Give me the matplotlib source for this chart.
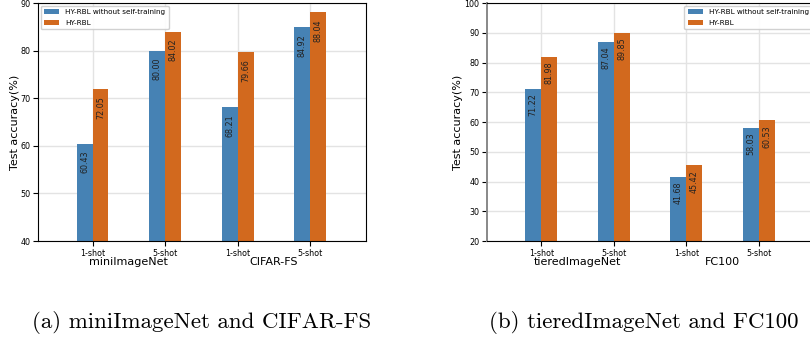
import numpy as np
import matplotlib.pyplot as plt

# Дані
shots = ['1-shot', '5-shot', '1-shot', '5-shot']
groups_a = ['miniImageNet', 'CIFAR-FS']
groups_b = ['tieredImageNet', 'FC100']
base_a = [60.43, 80.00, 68.21, 84.92]
full_a = [72.05, 84.02, 79.66, 88.04]
base_b = [71.22, 87.04, 41.68, 58.03]
full_b = [81.98, 89.85, 45.42, 60.53]
labels = ['HY-RBL without self-training', 'HY-RBL']
captions = ['(a) miniImageNet and CIFAR-FS', '(b) tieredImageNet and FC100']

C_BLUE = '#4682b4'
C_ORANGE = '#d2691e'
W = 0.22


def draw(ax, base, full, groups, ylim, legend_loc):
    x = np.arange(len(base))
    ax.set_axisbelow(True)
    b1 = ax.bar(x - W / 2, base, W, color=C_BLUE, label=labels[0])
    b2 = ax.bar(x + W / 2, full, W, color=C_ORANGE, label=labels[1])
    for bars, vals in ((b1, base), (b2, full)):
        for r, v in zip(bars, vals):
            ax.text(r.get_x() + r.get_width() / 2, v - 1.5,
                    f'{v:.2f}', rotation=90, ha='center', va='top', fontsize=5.8,
                    color='#222222')
    ax.set_xlim(-0.75, 3.77)
    ax.set_ylim(*ylim)
    ax.set_yticks(np.arange(ylim[0], ylim[1] + 1, 10))
    ax.set_xticks(x)
    ax.set_xticklabels(shots)
    ax.tick_params(labelsize=5.8, length=3.5, pad=2)
    ax.grid(True, color='#e3e3e3', linewidth=1.0)
    ax.set_ylabel('Test accuracy(%)', fontsize=8, labelpad=0.5)
    for i, g in enumerate(groups):
        ax.text((2 * i + 0.5), -0.088, g, transform=ax.get_xaxis_transform(),
                ha='center', va='center', fontsize=8)
    ax.legend(loc=legend_loc, fontsize=5.25, frameon=True, fancybox=True,
              framealpha=0.9, handlelength=2.05, borderpad=0.5, labelspacing=0.6,
              borderaxespad=0.35)


fig = plt.figure(figsize=(8.1, 3.4), dpi=100)
ax1 = fig.add_axes([0.047, 0.291, 0.405, 0.700])
ax2 = fig.add_axes([0.601, 0.291, 0.405, 0.700])

draw(ax1, base_a, full_a, groups_a, (40, 90), 'upper left')
draw(ax2, base_b, full_b, groups_b, (20, 100), 'upper right')
ax2.spines['left'].set_color('#888888')
ax2.spines['left'].set_linewidth(1.4)

fig.text(0.249, 0.05, captions[0], ha='center', va='center', fontsize=16.5, family='cmr10')
fig.text(0.795, 0.05, captions[1], ha='center', va='center', fontsize=16.5, family='cmr10')

fig.savefig('out.png', dpi=100)
